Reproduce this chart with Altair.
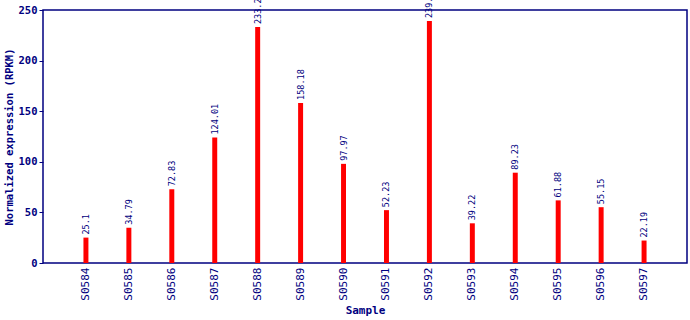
import altair as alt
import pandas as pd

samples = ["S0584", "S0585", "S0586", "S0587", "S0588", "S0589", "S0590",
           "S0591", "S0592", "S0593", "S0594", "S0595", "S0596", "S0597"]
values = [25.1, 34.79, 72.83, 124.01, 233.2, 158.18, 97.97,
          52.23, 239.1, 39.22, 89.23, 61.88, 55.15, 22.19]
labels = ["25.1", "34.79", "72.83", "124.01", "233.2", "158.18", "97.97",
          "52.23", "239.1", "39.22", "89.23", "61.88", "55.15", "22.19"]

df = pd.DataFrame({"Sample": samples, "Value": values, "Label": labels})

navy = "#000080"
font = "DejaVu Sans Mono"

x = alt.X("Sample:N", sort=samples, title="Sample",
          scale=alt.Scale(paddingInner=0.884, paddingOuter=0.942),
          axis=alt.Axis(labelAngle=-90, labelFont=font, labelFontSize=11,
                        labelColor=navy, ticks=False, domain=False,
                        titleFont=font, titleFontSize=11, titleFontWeight="bold",
                        titleColor=navy, labelPadding=4, titlePadding=4))
y = alt.Y("Value:Q", title="Normalized expression (RPKM)",
          scale=alt.Scale(domain=[0, 250], nice=False),
          axis=alt.Axis(values=[0, 50, 100, 150, 200, 250], labelFont=font,
                        labelFontSize=10.5, labelFontWeight="bold", labelColor=navy,
                        tickColor=navy, tickSize=4, domain=False, grid=False,
                        labelPadding=2,
                        titleFont=font, titleFontSize=10.5, titleFontWeight="bold",
                        titleColor=navy, titlePadding=4))

bars = alt.Chart(df).mark_bar(color="#ff0000").encode(x=x, y=y)
text = alt.Chart(df).mark_text(angle=270, align="left", baseline="middle",
                               dx=3, font=font, fontSize=8.5, color=navy).encode(
    x=alt.X("Sample:N", sort=samples), y="Value:Q", text="Label:N")

chart = (bars + text).properties(
    width=644, height=253,
    autosize=alt.AutoSizeParams(type="none"),
    padding={"left": 43, "top": 10, "right": 3, "bottom": 57},
).configure(background="white").configure_view(stroke=navy, strokeWidth=1.5)

chart.save("out.html", embed_options={"renderer": "svg", "actions": False})
